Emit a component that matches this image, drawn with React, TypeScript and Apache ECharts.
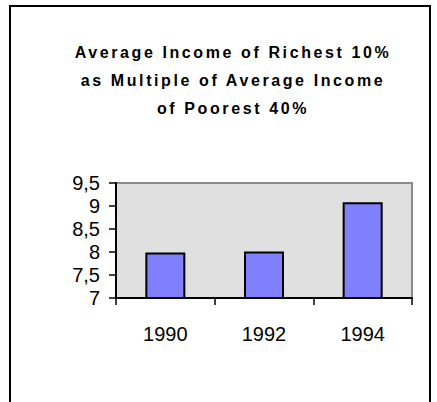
import React, { useEffect, useRef } from "react";
import * as echarts from "echarts";

const categories = ["1990", "1992", "1994"];
const values = [7.99, 8.01, 9.08];
const titleLines = [
  "Average Income of Richest 10%",
  "as Multiple of Average Income",
  "of Poorest 40%",
];
const yMin = 7;
const yMax = 9.5;
const yStep = 0.5;

export default function App() {
  const ref = useRef<HTMLDivElement>(null);
  useEffect(() => {
    if (!ref.current) return;
    const chart = echarts.init(ref.current, null, { renderer: "svg" });
    chart.setOption({
      animation: false,
      backgroundColor: "#ffffff",
      textStyle: { fontFamily: "Liberation Sans, Arial, sans-serif" },
      grid: {
        left: 116,
        right: 25,
        top: 183,
        bottom: 104,
        show: true,
        backgroundColor: "#e0e0e0",
        borderColor: "#8a8a8a",
        borderWidth: 2,
      },
      graphic: [
        {
          type: "rect",
          shape: { x: 10, y: 6, width: 420, height: 420 },
          style: { fill: "none", stroke: "#000", lineWidth: 2 },
          z: 10,
        },
        {
          type: "text",
          x: 233,
          y: 80,
          style: {
            text: titleLines.join("\n"),
            textAlign: "center",
            textVerticalAlign: "middle",
            lineHeight: 28,
            fontFamily: "Liberation Sans, Arial, sans-serif",
            fontWeight: "bold",
            fontSize: 16,
            fill: "#000",
          },
        },
      ],
      xAxis: {
        type: "category",
        data: categories,
        axisLine: { lineStyle: { color: "#000", width: 2 } },
        axisTick: { show: true, alignWithLabel: false, length: 7, lineStyle: { color: "#000", width: 1.5 } },
        axisLabel: { color: "#000", fontSize: 20, margin: 26 },
      },
      yAxis: {
        type: "value",
        min: yMin,
        max: yMax,
        interval: yStep,
        splitLine: { show: false },
        axisLine: { show: true, lineStyle: { color: "#000", width: 2 } },
        axisTick: { show: true, length: 7, lineStyle: { color: "#000", width: 1.5 } },
        axisLabel: {
          color: "#000",
          fontSize: 20,
          margin: 16,
          lineHeight: 20,
          formatter: (v: number) => String(v).replace(".", ","),
        },
      },
      series: [
        {
          type: "bar",
          data: values,
          barWidth: 40,
          itemStyle: { color: "#8080ff", borderColor: "#000", borderWidth: 2 },
        },
      ],
    });
    const svg = ref.current.querySelector("svg");
    if (svg) {
      svg.querySelectorAll("text").forEach((t) => {
        const s = t.textContent || "";
        if (titleLines.some((l) => s.includes(l) || (l.includes(s) && s.length > 8))) {
          (t as SVGTextElement).style.letterSpacing = "2.6px";
        }
      });
    }
    return () => chart.dispose();
  }, []);
  return (
    <div
      ref={ref}
      style={{ position: "fixed", left: 0, top: 0, width: 437, height: 402 }}
    />
  );
}
